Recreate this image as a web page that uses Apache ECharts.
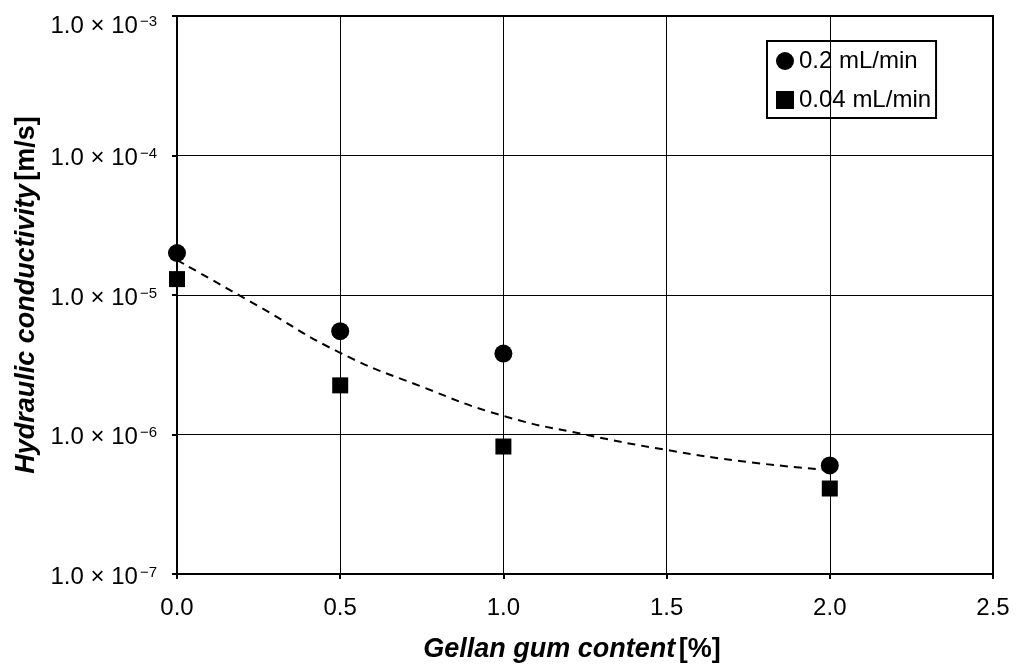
<!DOCTYPE html>
<html>
<head>
<meta charset="utf-8">
<script src="https://cdn.jsdelivr.net/npm/echarts@6/dist/echarts.min.js"></script>
<style>html,body{margin:0;padding:0;background:#fff}#c{width:1028px;height:664px}</style>
</head>
<body>
<div id="c"></div>
<script>
const gellanContent = [0.0, 0.5, 1.0, 2.0];
const flow02 = [2.0e-5, 5.5e-6, 3.8e-6, 6.0e-7];
const flow004 = [1.3e-5, 2.25e-6, 8.2e-7, 4.1e-7];
const trendX = [0.0, 0.25, 0.5, 0.75, 1.0, 1.25, 1.5, 1.75, 2.0];
const trendY = [1.78e-5, 8.3e-6, 3.85e-6, 2.2e-6, 1.36e-6, 1.0e-6, 7.75e-7, 6.35e-7, 5.55e-7];
const xTickLabels = ['0.0', '0.5', '1.0', '1.5', '2.0', '2.5'];
const yTickMantissa = '1.0 × 10';
const yTickExponents = ['−7', '−6', '−5', '−4', '−3'];

const chart = echarts.init(document.getElementById('c'));
const font = '"Liberation Sans", Arial, sans-serif';
function yLabel(v) {
  const e = Math.round(Math.log10(v));
  const sup = yTickExponents[e + 7];
  const main = '{b|' + yTickMantissa + '}{s|' + sup + '}';
  if (e === -3) return '{sp| }\n' + main;
  return main;
}
const titleRich = {
  i: { fontFamily: font, fontSize: 27, lineHeight: 27, fontWeight: 'bold', fontStyle: 'italic', color: '#000' },
  b: { fontFamily: font, fontSize: 27, lineHeight: 27, fontWeight: 'bold', color: '#000' }
};
chart.setOption({
  animation: false,
  grid: { left: 177, right: 35, top: 16, bottom: 90, show: true, borderColor: '#000', borderWidth: 2,
    containLabel: false, outerBoundsMode: 'none' },
  legend: {
    data: [
      { name: '0.2 mL/min', icon: 'circle' },
      { name: '0.04 mL/min', icon: 'rect' }
    ],
    orient: 'vertical', left: 767, top: 41,
    borderColor: '#000', borderWidth: 2, padding: [8, 5, 6, 9],
    itemWidth: 18, itemHeight: 18, itemGap: 15,
    textStyle: { fontFamily: font, fontSize: 24, lineHeight: 24, color: '#000' }
  },
  xAxis: {
    type: 'value', min: 0, max: 2.5, interval: 0.5,
    axisLine: { lineStyle: { color: '#000', width: 2 } },
    axisTick: { show: true, length: 5, lineStyle: { color: '#000', width: 2 } },
    splitLine: { show: true, lineStyle: { color: '#000', width: 1 } },
    axisLabel: { fontFamily: font, fontSize: 24, lineHeight: 24, color: '#000', margin: 22,
      formatter: v => xTickLabels[Math.round(v / 0.5)] },
    name: '{i|Gellan gum content} {b|[%]}', nameLocation: 'middle', nameGap: 62,
    nameTextStyle: { padding: [0, 26, 0, 0], rich: titleRich }
  },
  yAxis: {
    type: 'log', logBase: 10, min: 1e-7, max: 1e-3,
    axisLine: { lineStyle: { color: '#000', width: 2 } },
    axisTick: { show: true, length: 5, lineStyle: { color: '#000', width: 2 } },
    splitLine: { show: true, lineStyle: { color: '#000', width: 1 } },
    minorTick: { show: false },
    axisLabel: {
      margin: 20,
      padding: [6, 0, 0, 0],
      formatter: yLabel,
      rich: {
        sp: { fontSize: 14, lineHeight: 14 },
        b: { fontFamily: font, fontSize: 24, color: '#000', lineHeight: 24, verticalAlign: 'bottom' },
        s: { fontFamily: font, fontSize: 15, color: '#000', lineHeight: 15, verticalAlign: 'bottom', padding: [0, 0, 9, 2] }
      }
    },
    name: '{i|Hydraulic conductivity} {b|[m/s]}', nameLocation: 'middle', nameGap: 135,
    nameTextStyle: { rich: titleRich }
  },
  series: [
    {
      name: 'trend', type: 'line', smooth: true, symbol: 'none', silent: true,
      data: trendX.map((x, i) => [x, trendY[i]]),
      lineStyle: { color: '#000', width: 2, type: [8, 6] }, z: 2
    },
    {
      name: '0.2 mL/min', type: 'scatter', symbol: 'circle', symbolSize: 18,
      data: gellanContent.map((x, i) => [x, flow02[i]]),
      itemStyle: { color: '#000', opacity: 1 }, z: 3
    },
    {
      name: '0.04 mL/min', type: 'scatter', symbol: 'rect', symbolSize: 16,
      data: gellanContent.map((x, i) => [x, flow004[i]]),
      itemStyle: { color: '#000', opacity: 1 }, z: 3
    }
  ]
});
</script>
</body>
</html>
